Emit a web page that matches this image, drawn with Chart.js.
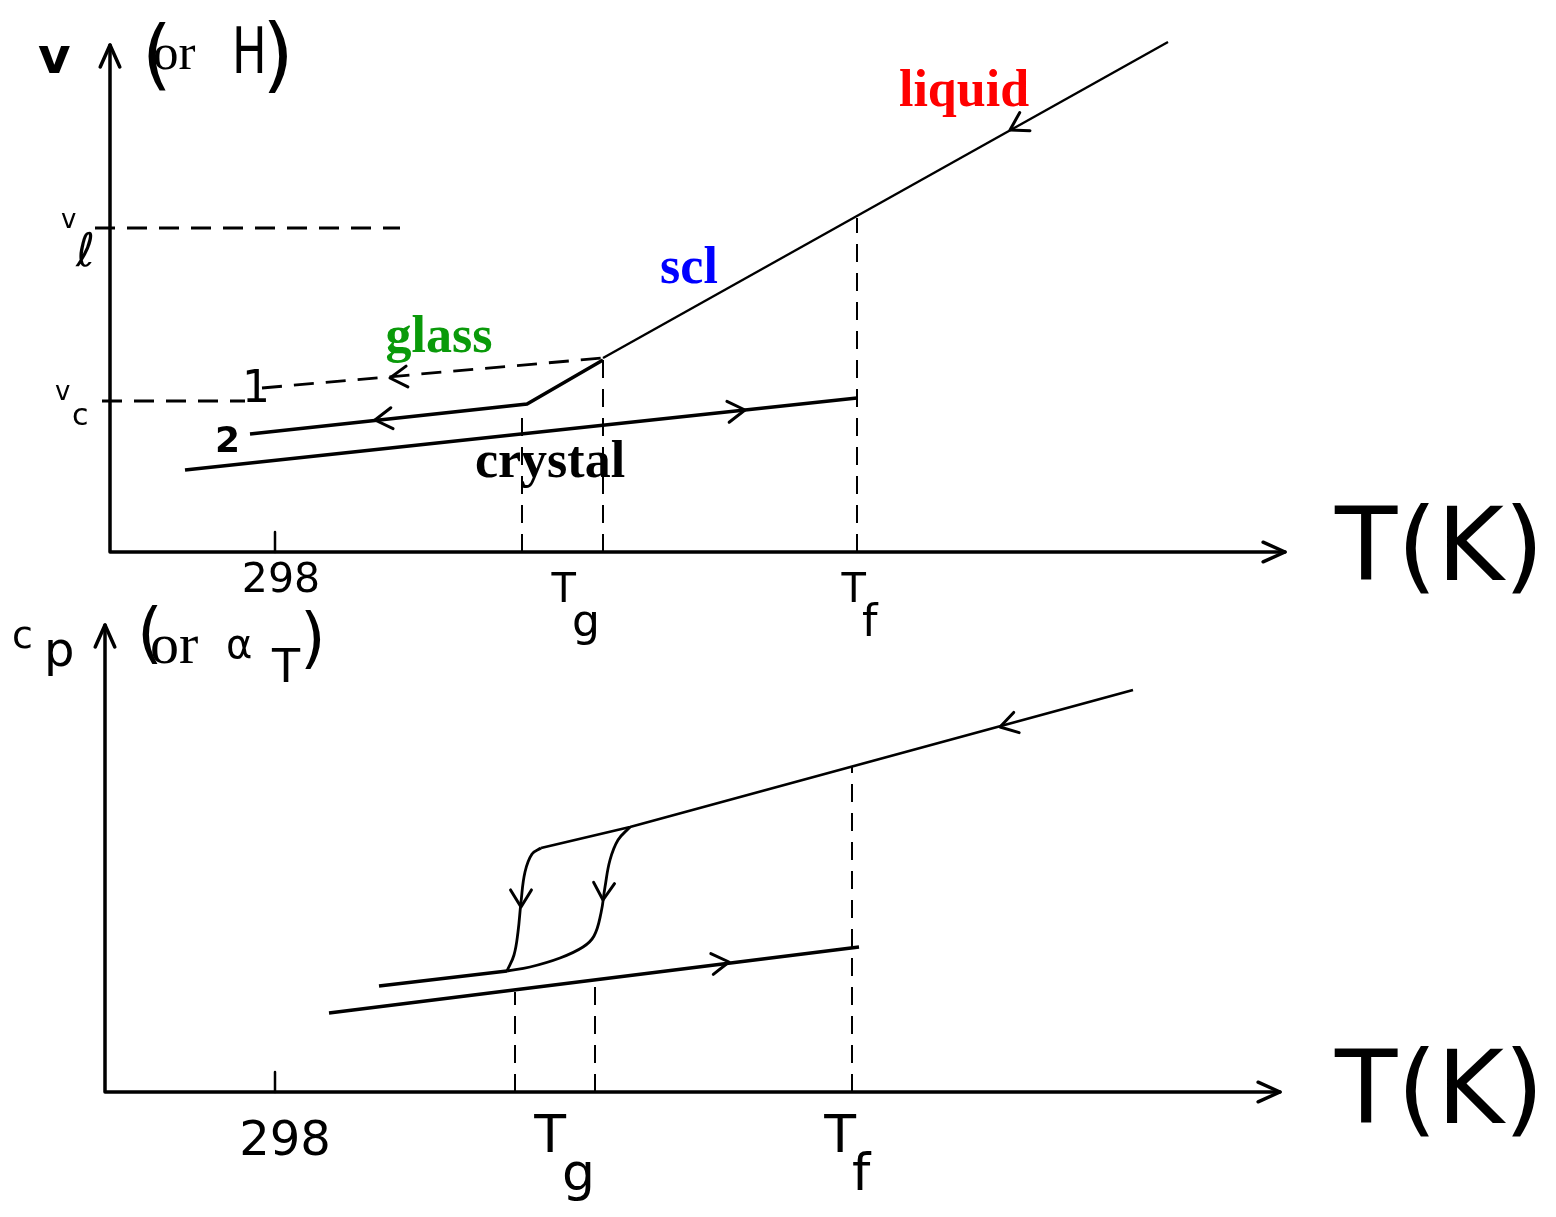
<!DOCTYPE html>
<html><head><meta charset="utf-8">
<script src="https://cdn.jsdelivr.net/npm/chart.js@4.4.1/dist/chart.umd.min.js"></script>
<style>
html,body{margin:0;padding:0;background:#fff;}
#wrap{position:relative;width:1556px;height:1217px;background:#fff;}
canvas{position:absolute;left:0;top:0;}
</style></head><body>
<div id="wrap"><canvas id="c1" width="1556" height="1217"></canvas><canvas id="c2" width="1556" height="1217"></canvas></div>
<script>
// ===== Top panel: V (or H) vs T — schematic units =====
const topCrystalT = [75, 747];
const topCrystalV = [82, 154];
const topGlass2T  = [140, 417, 493];
const topGlass2V  = [118, 148, 192];
const topGlass1T  = [152, 493];
const topGlass1V  = [164, 194];
const topLiquidT  = [493, 1058];
const topLiquidV  = [194, 510];
const topVcT = [-8, 135];  const topVcV = [151, 151];
const topVlT = [-15, 290]; const topVlV = [324, 324];
const topGuideT   = [412, 493, 747];   // Tg(2), Tg(1), Tf
const topGuideTop = [145, 192, 334];
const topTickT = [165];                // 298 K
const topTickLabelT = [171, 460, 750];
const tickLabels = [['298',''], ['T','g'], ['T','f']];

// ===== Bottom panel: cp (or alpha_T) vs T =====
const botCrystalT = [224, 754];
const botCrystalC = [79, 145];
const botGlassT   = [274, 402];
const botGlassC   = [106, 121];
const botFastT    = [402, 409, 413, 416, 420, 427, 436];
const botFastC    = [121, 137, 160, 190, 220, 238, 244];
const botLiquidT  = [436, 525, 1028];
const botLiquidC  = [244, 265, 402];
const botSlowT    = [525, 513, 505, 500, 496, 489, 478, 455, 425, 402];
const botSlowC    = [265, 252, 232, 205, 179, 156, 145, 134, 125, 121];
const botGuideT   = [410, 490, 747];
const botGuideTop = [100, 112, 325];
const botTickT = [170];
const botTickLabelT = [180, 455, 745];

const zip = (xs, ys) => xs.map((x, i) => ({x, y: ys[i]}));
const HAND = '"DejaVu Sans", sans-serif';
const SERIF = '"Liberation Serif", "Times New Roman", serif';

function line(xs, ys, opts) {
  return Object.assign({data: zip(xs, ys), borderColor: '#000', borderWidth: 3.5, pointRadius: 0,
    tension: 0, fill: false, clip: false}, opts || {});
}
function guides(xs, tops) {
  return xs.map((x, i) => line([x, x], [0, tops[i]], {borderWidth: 2, borderDash: [18, 11]}));
}

function chevron(ctx, px, py, ang, len, spread) {
  ctx.beginPath();
  ctx.moveTo(px - len * Math.cos(ang - spread), py - len * Math.sin(ang - spread));
  ctx.lineTo(px, py);
  ctx.lineTo(px - len * Math.cos(ang + spread), py - len * Math.sin(ang + spread));
  ctx.stroke();
}

const decoPlugin = {
  id: 'deco',
  afterDatasetsDraw(chart, args, o) {
    const ctx = chart.ctx, xs = chart.scales.x, ys = chart.scales.y;
    const X = v => xs.getPixelForValue(v), Y = v => ys.getPixelForValue(v);
    ctx.save();
    ctx.strokeStyle = '#000'; ctx.fillStyle = '#000';
    ctx.lineCap = 'round'; ctx.lineJoin = 'round';
    // axes
    ctx.lineWidth = 3.5;
    ctx.beginPath();
    ctx.moveTo(X(0), Y(o.yTop)); ctx.lineTo(X(0), Y(0)); ctx.lineTo(X(o.xRight), Y(0));
    ctx.stroke();
    chevron(ctx, X(0), Y(o.yTop), -Math.PI / 2, 24, 0.42);
    chevron(ctx, X(o.xRight), Y(0), 0, 24, 0.42);
    // tick marks
    ctx.lineWidth = 2.5;
    o.ticks.forEach(t => { ctx.beginPath(); ctx.moveTo(X(t), Y(0)); ctx.lineTo(X(t), Y(0) - 20); ctx.stroke(); });
    // direction arrows on curves
    ctx.lineWidth = 3;
    o.arrows.forEach(a => {
      const px = X(a[0]), py = Y(a[1]);
      const ang = Math.atan2(Y(a[3]) - py, X(a[2]) - px);
      chevron(ctx, px, py, ang, 20, 0.55);
    });
    // tick labels (through x scale)
    o.tickLabels.forEach((lab, i) => {
      const cx = X(o.tickLabelT[i]);
      if (lab[1] === '') {
        ctx.font = o.numFont; ctx.textAlign = 'center'; ctx.textBaseline = 'alphabetic';
        ctx.fillText(lab[0], cx, Y(0) + o.numDy);
      } else {
        ctx.font = o.tFont; ctx.textAlign = 'right';
        ctx.fillText(lab[0], cx + 6, Y(0) + o.tDy);
        ctx.font = o.subFont; ctx.textAlign = 'left';
        ctx.fillText(lab[1], cx + 2, Y(0) + o.tDy + o.subDy);
      }
    });
    // free texts
    o.texts.forEach(t => {
      ctx.save();
      ctx.font = t.f; ctx.fillStyle = t.c || '#000';
      ctx.textAlign = t.a || 'left'; ctx.textBaseline = 'alphabetic';
      ctx.translate(t.x, t.y);
      if (t.sx) ctx.scale(t.sx, 1);
      ctx.fillText(t.t, 0, 0);
      ctx.restore();
    });
    ctx.restore();
  }
};

function makeChart(id, datasets, pad, xMax, yMax, deco) {
  return new Chart(document.getElementById(id), {
    type: 'line',
    data: {datasets},
    options: {
      responsive: false, animation: false, events: [],
      layout: {padding: pad},
      scales: {
        x: {type: 'linear', min: 0, max: xMax, display: false},
        y: {type: 'linear', min: 0, max: yMax, display: false}
      },
      plugins: {legend: {display: false}, tooltip: {enabled: false}, deco}
    },
    plugins: [decoPlugin]
  });
}

// ---------- top chart ----------
makeChart('c1', [
  line(topCrystalT, topCrystalV),
  line(topGlass2T, topGlass2V),
  line(topGlass1T, topGlass1V, {borderWidth: 2.8, borderDash: [20, 12]}),
  line(topLiquidT, topLiquidV, {borderWidth: 2.4}),
  line(topVcT, topVcV, {borderWidth: 2.8, borderDash: [20, 12]}),
  line(topVlT, topVlV, {borderWidth: 2.8, borderDash: [20, 12]}),
  ...guides(topGuideT, topGuideTop)
], {left: 110, right: 271, top: 30, bottom: 665}, 1175, 522, {
  yTop: 507, xRight: 1175, ticks: topTickT,
  arrows: [[900, 422, 700, 310], [635, 142, 700, 149], [265, 132, 200, 125], [280, 174, 200, 167]],
  tickLabels, tickLabelT: topTickLabelT,
  numFont: '41px ' + HAND, numDy: 40, tFont: '40px ' + HAND, tDy: 50, subFont: '44px ' + HAND, subDy: 34,
  texts: [
    {t: 'v', x: 38, y: 73, f: 'bold 50px ' + HAND},
    {t: '(', x: 142, y: 80, f: '76px ' + HAND},
    {t: 'or', x: 153, y: 69, f: '51px ' + SERIF},
    {t: 'H', x: 232, y: 73, f: '64px ' + HAND, sx: 0.72},
    {t: ')', x: 262, y: 82, f: '82px ' + HAND},
    {t: 'v', x: 61, y: 228, f: '26px ' + HAND},
    {t: 'ℓ', x: 76, y: 266, f: '46px ' + HAND},
    {t: 'v', x: 55, y: 400, f: '26px ' + HAND},
    {t: 'c', x: 72, y: 425, f: '30px ' + HAND},
    {t: '1', x: 242, y: 402, f: '44px ' + HAND},
    {t: '2', x: 215, y: 452, f: 'bold 36px ' + HAND},
    {t: 'T(K)', x: 1335, y: 580, f: '102px ' + HAND},
    {t: 'liquid', x: 964, y: 106, f: 'bold 52px ' + SERIF, c: '#ff0000', a: 'center'},
    {t: 'scl', x: 689, y: 283, f: 'bold 52px ' + SERIF, c: '#0000ff', a: 'center'},
    {t: 'glass', x: 439, y: 352, f: 'bold 52px ' + SERIF, c: '#0a9a0a', a: 'center'},
    {t: 'crystal', x: 550, y: 477, f: 'bold 52px ' + SERIF, c: '#000000', a: 'center'}
  ]
});

// ---------- bottom chart ----------
makeChart('c2', [
  line(botCrystalT, botCrystalC),
  line(botGlassT, botGlassC),
  line(botFastT, botFastC, {borderWidth: 2.8, tension: 0.4}),
  line(botLiquidT, botLiquidC, {borderWidth: 2.8}),
  line(botSlowT, botSlowC, {borderWidth: 2.8, tension: 0.4}),
  ...guides(botGuideT, botGuideTop)
], {left: 105, right: 276, top: 612, bottom: 125}, 1175, 480, {
  yTop: 467, xRight: 1175, ticks: botTickT,
  arrows: [[895, 365, 700, 312], [416, 185, 416, 150], [498, 192, 496, 160], [624, 130, 700, 139]],
  tickLabels, tickLabelT: botTickLabelT,
  numFont: '48px ' + HAND, numDy: 63, tFont: '52px ' + HAND, tDy: 60, subFont: '52px ' + HAND, subDy: 38,
  texts: [
    {t: 'c', x: 12, y: 648, f: '38px ' + HAND},
    {t: 'p', x: 44, y: 666, f: '48px ' + HAND},
    {t: '(', x: 137, y: 655, f: '66px ' + HAND},
    {t: 'or', x: 150, y: 663, f: '58px ' + SERIF},
    {t: 'α', x: 226, y: 658, f: '40px ' + HAND},
    {t: 'T', x: 272, y: 682, f: '46px ' + HAND},
    {t: ')', x: 300, y: 660, f: '66px ' + HAND},
    {t: 'T(K)', x: 1335, y: 1123, f: '102px ' + HAND}
  ]
});
</script>
</body></html>
